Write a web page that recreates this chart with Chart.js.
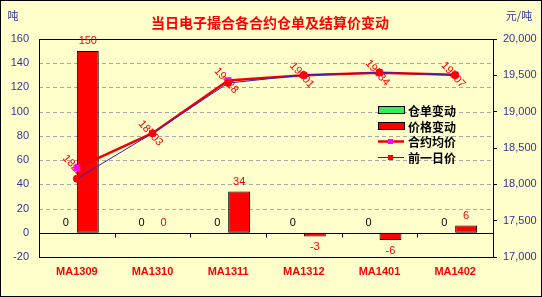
<!DOCTYPE html>
<html>
<head>
<meta charset="utf-8">
<script src="https://cdn.jsdelivr.net/npm/chart.js@4"></script>
<style>
  body { margin: 0; background: #ffffcc; }
  canvas { display: block; }
</style>
</head>
<body>
<canvas id="warrantChart" width="542" height="297"></canvas>
<script>
// data
const contracts = ["MA1309", "MA1310", "MA1311", "MA1312", "MA1401", "MA1402"];
const warrantChange = [0, 0, 0, 0, 0, 0];
const priceChange = [150, 0, 34, -3, -6, 6];
const avgPrice = [18228, 18703, 19428, 19501, 19534, 19507];
const prevPrice = [18078, 18703, 19394, 19504, 19540, 19501];

const titleText = "当日电子撮合各合约仓单及结算价变动";
const leftUnit = "吨";
const rightUnit = "元/吨";

const axisBlue = "#333399";
const cjk = '"Noto Sans CJK SC", sans-serif';

const decorPlugin = {
    id: "decor",
    beforeDraw(chart) {
        const c = chart.ctx;
        c.save();
        c.fillStyle = "#ffffcc";
        c.fillRect(0, 0, chart.width, chart.height);
        c.restore();
    },
    beforeDatasetsDraw(chart) {
        const c = chart.ctx;
        const a = chart.chartArea;
        const y = chart.scales.y;
        c.save();
        // dashed grid
        c.strokeStyle = "#a8a8a8";
        c.lineWidth = 1;
        c.setLineDash([4, 3]);
        y.ticks.forEach(t => {
            if (t.value === y.min || t.value === y.max || t.value === 0) return;
            const py = Math.round(y.getPixelForValue(t.value)) + 0.5;
            c.beginPath();
            c.moveTo(a.left, py);
            c.lineTo(a.right, py);
            c.stroke();
        });
        c.setLineDash([]);
        // zero line and category ticks
        const zy = Math.round(y.getPixelForValue(0)) + 0.5;
        c.strokeStyle = "#000";
        c.beginPath();
        c.moveTo(a.left, zy);
        c.lineTo(a.right, zy);
        const x = chart.scales.x;
        for (let i = 0; i < contracts.length - 1; i++) {
            const bx = Math.round((x.getPixelForValue(i) + x.getPixelForValue(i + 1)) / 2) + 0.5;
            c.moveTo(bx, zy);
            c.lineTo(bx, zy + 4);
        }
        c.stroke();
        // rotated labels of the contract average price
        const meta = chart.getDatasetMeta(2);
        c.fillStyle = "#ff0000";
        c.font = '11px "Liberation Sans", Arial, sans-serif';
        c.textAlign = "center";
        c.textBaseline = "middle";
        meta.data.forEach((pt, i) => {
            c.save();
            c.translate(pt.x - 2, pt.y);
            c.rotate(48 * Math.PI / 180);
            c.fillText(String(avgPrice[i]), 0, 0);
            c.restore();
        });
        c.restore();
    },
    afterDatasetsDraw(chart) {
        const c = chart.ctx;
        const a = chart.chartArea;
        c.save();
        c.strokeStyle = "#000";
        c.lineWidth = 1;
        c.strokeRect(Math.round(a.left) + 0.5, Math.round(a.top) + 0.5,
            Math.round(a.right - a.left), Math.round(a.bottom - a.top));
        // bar value labels
        c.font = '11px "Liberation Sans", Arial, sans-serif';
        c.textAlign = "center";
        c.textBaseline = "middle";
        [0, 1].forEach(di => {
            const ds = chart.data.datasets[di];
            chart.getDatasetMeta(di).data.forEach((bar, i) => {
                const v = ds.data[i];
                c.fillStyle = di === 0 ? "#000" : "#ff0000";
                const ly = v >= 0 ? bar.y - 10 : bar.y + 11;
                c.fillText(String(v), bar.x, ly);
            });
        });
        c.restore();
    },
    afterDraw(chart) {
        const c = chart.ctx;
        c.save();
        c.textBaseline = "middle";
        c.textAlign = "center";
        c.fillStyle = "#ff0000";
        c.font = "bold 14px " + cjk;
        c.fillText(titleText, 270, 23);
        c.fillStyle = axisBlue;
        c.font = "11px " + cjk;
        c.fillText(leftUnit, 13, 16);
        c.fillText(rightUnit, 519, 16);
        // legend
        const rows = [110, 126, 141, 157];
        c.textAlign = "left";
        c.font = "bold 12px " + cjk;
        chart.data.datasets.forEach((ds, i) => {
            const ry = rows[i];
            if (ds.type === "bar") {
                c.fillStyle = ds.backgroundColor;
                c.fillRect(378, ry - 3, 26, 7);
                c.strokeStyle = "#000";
                c.lineWidth = 1;
                c.strokeRect(378.5, ry - 3.5, 26, 7);
            } else {
                c.strokeStyle = ds.borderColor;
                c.lineWidth = ds.borderWidth;
                c.beginPath();
                c.moveTo(378, ry + 0.5);
                c.lineTo(404, ry + 0.5);
                c.stroke();
                c.fillStyle = ds.pointBackgroundColor;
                c.fillRect(388, ry - 2, 5, 5);
            }
            c.fillStyle = "#000";
            c.fillText(ds.label, 408, ry + 1);
        });
        // outer frame
        c.strokeStyle = "#000";
        c.lineWidth = 1;
        c.strokeRect(0.5, 0.5, chart.width - 1, chart.height - 1);
        c.restore();
    }
};

const ctx = document.getElementById("warrantChart").getContext("2d");
const warrantChart = new Chart(ctx, {
    data: {
        labels: contracts,
        datasets: [{
            type: "bar",
            label: "仓单变动",
            data: warrantChange,
            backgroundColor: "#33ee55",
            borderColor: "#000",
            borderWidth: 1,
            borderSkipped: false,
            yAxisID: "y",
            order: 3
        }, {
            type: "bar",
            label: "价格变动",
            data: priceChange,
            backgroundColor: "#ff0000",
            borderColor: "#000",
            borderWidth: 1,
            borderSkipped: false,
            yAxisID: "y",
            order: 3
        }, {
            type: "line",
            label: "合约均价",
            data: avgPrice,
            borderColor: "#ee0000",
            borderWidth: 2.5,
            pointStyle: "rect",
            pointRadius: 3,
            pointBackgroundColor: "#ff00ff",
            pointBorderColor: "#ff00ff",
            tension: 0,
            yAxisID: "y1",
            order: 2
        }, {
            type: "line",
            label: "前一日价",
            data: prevPrice,
            borderColor: "#3322bb",
            borderWidth: 1,
            pointStyle: "circle",
            pointRadius: 3.5,
            pointBackgroundColor: "#ff0000",
            pointBorderColor: "#ff0000",
            tension: 0,
            yAxisID: "y1",
            order: 1
        }]
    },
    options: {
        responsive: false,
        animation: false,
        layout: { padding: { top: 39, left: 0, right: 0, bottom: 0 } },
        datasets: { bar: { categoryPercentage: 0.58, barPercentage: 1 } },
        plugins: {
            legend: { display: false },
            tooltip: { enabled: false },
            title: { display: false }
        },
        scales: {
            x: {
                grid: { display: false, drawTicks: false },
                border: { display: false },
                ticks: {
                    color: "#ff0000",
                    font: { family: '"Liberation Sans", Arial, sans-serif', size: 11, weight: "bold" },
                    padding: 8,
                    maxRotation: 0
                },
                afterFit: s => { s.height = 40; }
            },
            y: {
                position: "left",
                min: -20,
                max: 160,
                ticks: {
                    stepSize: 20,
                    color: axisBlue,
                    font: { family: '"Liberation Sans", Arial, sans-serif', size: 11 },
                    padding: 10
                },
                grid: { display: false, drawTicks: false },
                border: { display: false },
                afterFit: s => { s.width = 39; }
            },
            y1: {
                position: "right",
                min: 17000,
                max: 20000,
                ticks: {
                    stepSize: 500,
                    color: axisBlue,
                    font: { family: '"Liberation Sans", Arial, sans-serif', size: 11 },
                    padding: 6
                },
                grid: { drawOnChartArea: false, color: "#000", tickLength: 4 },
                border: { display: false },
                afterFit: s => { s.width = 49; }
            }
        }
    },
    plugins: [decorPlugin]
});
</script>
</body>
</html>
